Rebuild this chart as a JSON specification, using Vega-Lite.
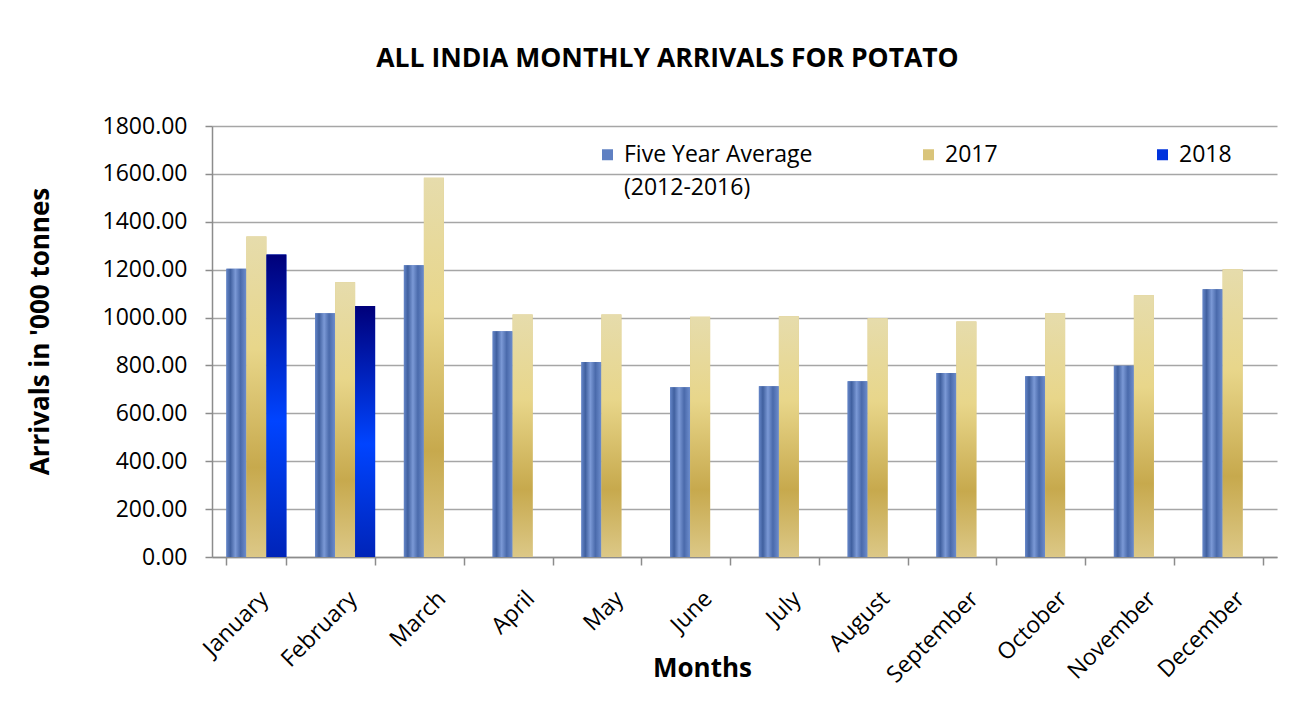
{
  "$schema": "https://vega.github.io/schema/vega-lite/v6.json",
  "width": 1065,
  "height": 431,
  "autosize": {"type": "none"},
  "padding": {"left": 212, "top": 126, "right": 35, "bottom": 168},
  "background": "white",
  "title": {
    "text": "ALL INDIA MONTHLY ARRIVALS FOR POTATO",
    "font": "Open Sans",
    "fontSize": 26.5,
    "fontWeight": "bold",
    "color": "#000000",
    "anchor": "middle",
    "dx": -77,
    "offset": 22,
    "baseline": "alphabetic"
  },
  "config": {
    "view": {"stroke": null},
    "font": "Open Sans",
    "style": {"guide-label": {"lineHeight": 33}}
  },
  "data": {
    "values": [
      {"month": "January", "series": "Five Year Average (2012-2016)", "value": 1204},
      {"month": "January", "series": "2017", "value": 1338},
      {"month": "January", "series": "2018", "value": 1263},
      {"month": "February", "series": "Five Year Average (2012-2016)", "value": 1018},
      {"month": "February", "series": "2017", "value": 1147},
      {"month": "February", "series": "2018", "value": 1048},
      {"month": "March", "series": "Five Year Average (2012-2016)", "value": 1218},
      {"month": "March", "series": "2017", "value": 1584},
      {"month": "April", "series": "Five Year Average (2012-2016)", "value": 943},
      {"month": "April", "series": "2017", "value": 1013},
      {"month": "May", "series": "Five Year Average (2012-2016)", "value": 814},
      {"month": "May", "series": "2017", "value": 1013},
      {"month": "June", "series": "Five Year Average (2012-2016)", "value": 709},
      {"month": "June", "series": "2017", "value": 1003},
      {"month": "July", "series": "Five Year Average (2012-2016)", "value": 713},
      {"month": "July", "series": "2017", "value": 1005},
      {"month": "August", "series": "Five Year Average (2012-2016)", "value": 734},
      {"month": "August", "series": "2017", "value": 997},
      {"month": "September", "series": "Five Year Average (2012-2016)", "value": 768},
      {"month": "September", "series": "2017", "value": 984},
      {"month": "October", "series": "Five Year Average (2012-2016)", "value": 755},
      {"month": "October", "series": "2017", "value": 1018},
      {"month": "November", "series": "Five Year Average (2012-2016)", "value": 799},
      {"month": "November", "series": "2017", "value": 1093},
      {"month": "December", "series": "Five Year Average (2012-2016)", "value": 1118},
      {"month": "December", "series": "2017", "value": 1202}
    ]
  },
  "encoding": {
    "x": {
      "field": "month",
      "type": "nominal",
      "sort": ["January", "February", "March", "April", "May", "June", "July", "August", "September", "October", "November", "December"],
      "scale": {"paddingInner": 0.324, "paddingOuter": 0.162},
      "axis": {
        "title": "Months",
        "titleFont": "Open Sans",
        "titleFontSize": 26,
        "titleFontWeight": "bold",
        "titleColor": "#000000",
        "titleX": 490,
        "titleY": 111,
        "titleBaseline": "middle",
        "titleAnchor": "middle",
        "labelAngle": -45,
        "labelFontSize": 23,
        "labelColor": "#000000",
        "labelPadding": 22,
        "tickBand": "extent",
        "tickSize": 8,
        "tickColor": "#8c8c8c",
        "tickWidth": 1.5,
        "domainColor": "#8c8c8c",
        "domainWidth": 1.5,
        "grid": false
      }
    },
    "xOffset": {
      "field": "series",
      "type": "nominal",
      "sort": ["Five Year Average (2012-2016)", "2017", "2018"],
      "scale": {"domain": ["Five Year Average (2012-2016)", "2017", "2018"], "paddingInner": 0, "paddingOuter": 0}
    },
    "y": {
      "field": "value",
      "type": "quantitative",
      "scale": {"domain": [0, 1800]},
      "axis": {
        "title": "Arrivals in '000 tonnes",
        "titleFont": "Open Sans",
        "titleFontSize": 26,
        "titleFontWeight": "bold",
        "titleColor": "#000000",
        "titleX": -172,
        "titleY": 205,
        "titleBaseline": "middle",
        "values": [0, 200, 400, 600, 800, 1000, 1200, 1400, 1600, 1800],
        "format": ".2f",
        "labelFontSize": 23,
        "labelColor": "#000000",
        "labelPadding": 18,
        "tickSize": 7,
        "tickColor": "#8c8c8c",
        "tickWidth": 1.5,
        "domainColor": "#8c8c8c",
        "domainWidth": 1.5,
        "gridColor": "#a6a6a6",
        "gridWidth": 1.5
      }
    }
  },
  "layer": [
    {
      "mark": {"type": "bar", "strokeWidth": 0},
      "encoding": {
        "fill": {
          "field": "series",
          "type": "nominal",
          "sort": ["Five Year Average (2012-2016)", "2017", "2018"],
          "scale": {
            "domain": ["Five Year Average (2012-2016)", "2017", "2018"],
            "range": ["#5f80c2", "#d9c47a", "#0033dd"]
          },
          "legend": {
            "title": null,
            "orient": "none",
            "legendX": 384,
            "legendY": 17,
            "direction": "horizontal",
            "columns": 3,
            "padding": 0,
            "labelFont": "Open Sans",
            "labelFontSize": 23,
            "labelColor": "#000000",
            "labelLimit": 400,
            "labelOffset": 5,
            "symbolType": "square",
            "symbolSize": 121,
            "symbolStrokeWidth": 0,
            "columnPadding": 104,
            "labelExpr": "datum.label == 'Five Year Average (2012-2016)' ? ['Five Year Average', '(2012-2016)'] : datum.label == '2017' ? ['2017', '\u2800\u2800\u2800\u2800\u2800\u2800'] : [datum.label, '']"
          }
        }
      }
    },
    {
      "transform": [{"filter": "datum.series == 'Five Year Average (2012-2016)'"}],
      "mark": {"type": "bar", "strokeWidth": 0, "fill": {"gradient": "linear", "x1": 0, "y1": 0, "x2": 1, "y2": 0, "stops": [
        {"offset": 0, "color": "#6586c8"},
        {"offset": 0.2, "color": "#40609f"},
        {"offset": 0.45, "color": "#7b99d6"},
        {"offset": 0.7, "color": "#4a6aab"},
        {"offset": 1, "color": "#6d8dcd"}
      ]}}
    },
    {
      "transform": [{"filter": "datum.series == '2017'"}],
      "mark": {"type": "bar", "strokeWidth": 0, "fill": {"gradient": "linear", "x1": 0, "y1": 0, "x2": 0, "y2": 1, "stops": [
        {"offset": 0, "color": "#e6dcac"},
        {"offset": 0.35, "color": "#e8d68a"},
        {"offset": 0.72, "color": "#c7a94d"},
        {"offset": 1, "color": "#dcc887"}
      ]}}
    },
    {
      "transform": [{"filter": "datum.series == '2018'"}],
      "mark": {"type": "bar", "strokeWidth": 0, "fill": {"gradient": "linear", "x1": 0, "y1": 0, "x2": 0, "y2": 1, "stops": [
        {"offset": 0, "color": "#00007a"},
        {"offset": 0.55, "color": "#0044ff"},
        {"offset": 1, "color": "#0024b8"}
      ]}}
    }
  ]
}
